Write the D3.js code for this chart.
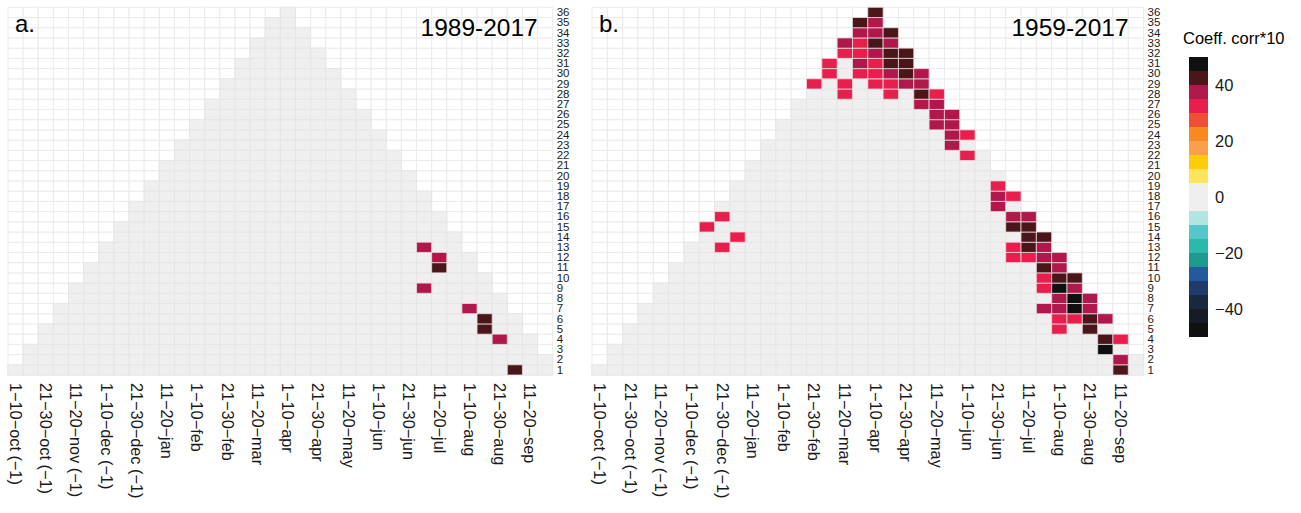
<!DOCTYPE html>
<html><head><meta charset="utf-8">
<script src="https://cdn.jsdelivr.net/npm/d3@7"></script>
<style>
body{margin:0;background:#fff}
text{font-family:"Liberation Sans",Arial,Helvetica,sans-serif}
</style>
</head><body>
<svg id="chart" width="1301" height="513"></svg>
<script>
// ---------- data ----------
const dekadLabels = [
  "1−10−oct (−1)","11−20−oct (−1)","21−30−oct (−1)",
  "1−10−nov (−1)","11−20−nov (−1)","21−30−nov (−1)",
  "1−10−dec (−1)","11−20−dec (−1)","21−30−dec (−1)",
  "1−10−jan","11−20−jan","21−30−jan",
  "1−10−feb","11−20−feb","21−30−feb",
  "1−10−mar","11−20−mar","21−30−mar",
  "1−10−apr","11−20−apr","21−30−apr",
  "1−10−may","11−20−may","21−30−may",
  "1−10−jun","11−20−jun","21−30−jun",
  "1−10−jul","11−20−jul","21−30−jul",
  "1−10−aug","11−20−aug","21−30−aug",
  "1−10−sep","11−20−sep","21−30−sep"
];
const tickDekads = [1,3,5,7,9,11,13,15,17,19,21,23,25,27,29,31,33,35];
const windowLengths = d3.range(1, 37);   // 1..36 dekads
const panelKeys = ["a.", "b."];
const panelTitles = ["1989-2017", "1959-2017"];

// significant cells: [start dekad, window length, coeff. corr*10]
const cellsA = [
  [22,13,37],[23,12,37],[24,11,42],[24,9,37],[28,7,37],
  [29,6,42],[30,5,42],[31,4,37],[34,1,42]
];
const cellsB = [
  [1,36,42],
  [1,35,42],[2,35,37],
  [1,34,37],[2,34,37],[3,34,42],
  [1,33,37],[2,33,32],[3,33,42],[4,33,37],
  [1,32,32],[2,32,32],[3,32,37],[4,32,42],[5,32,42],
  [1,31,32],[3,31,37],[4,31,32],[5,31,42],[6,31,42],
  [1,30,32],[3,30,32],[4,30,32],[5,30,37],[6,30,42],[7,30,37],
  [1,29,32],[3,29,32],[5,29,32],[6,29,32],[7,29,37],[8,29,37],
  [3,28,32],[6,28,32],[8,28,42],[9,28,32],
  [9,27,37],[10,27,37],
  [10,26,37],[11,26,37],
  [11,25,37],[12,25,37],
  [12,24,37],[13,24,32],
  [13,23,37],
  [14,22,32],
  [18,19,32],
  [18,18,37],[19,18,32],
  [19,17,37],
  [1,16,32],[20,16,37],[21,16,37],
  [1,15,32],[21,15,42],[22,15,42],
  [3,14,32],[22,14,42],[23,14,42],
  [3,13,32],[22,13,32],[23,13,42],[24,13,37],
  [22,12,32],[23,12,32],[24,12,37],[25,12,37],
  [25,11,42],[26,11,37],
  [25,10,32],[26,10,42],[27,10,42],
  [26,9,32],[27,9,47],[28,9,37],
  [27,8,37],[28,8,47],[29,8,37],
  [27,7,37],[28,7,37],[29,7,47],[30,7,37],
  [28,6,32],[29,6,32],[30,6,42],[31,6,37],
  [29,5,32],[31,5,42],
  [32,4,42],[33,4,32],
  [33,3,47],
  [34,2,37],
  [35,1,42]
];

// colour classes
const classBreaks = [-45,-40,-35,-30,-25,-20,-15,-10,-5,5,10,15,20,25,30,35,40,45];
const classColors = [
  "#101010","#161c24","#19283f","#1f3b6b","#235a9e","#1f9990","#2bb9ad","#55c6ca","#b2e5e2",
  "#efefef",
  "#ffe45c","#ffcc0a","#f8a04a","#f68a1f","#f04f37","#e81f4c","#b0174b","#4a1619","#101010"
];
const legendEdges = [-50,-45,-40,-35,-30,-25,-20,-15,-10,-5,5,10,15,20,25,30,35,40,45,50];
const legendTicks = [40,20,0,-20,-40];
const legendTitle = "Coeff. corr*10";

// ---------- drawing ----------
const svg = d3.select("#chart");
const color = d3.scaleThreshold().domain(classBreaks).range(classColors);
const fmt = v => (v < 0 ? "−" + Math.abs(v) : String(v));

const plotTop = 7.3, plotBottom = 375;
const panelRanges = [[8, 552.7], [592, 1143.6]];
const allCells = [cellsA, cellsB];

panelKeys.forEach((key, p) => {
  const [x0, x1] = panelRanges[p];
  const x = d3.scaleBand().domain(d3.range(1, 37)).range([x0, x1]);
  const y = d3.scaleBand().domain(windowLengths).range([plotBottom, plotTop]);
  const g = svg.append("g");

  // background grid
  const grid = [];
  x.domain().forEach(c => windowLengths.forEach(l => grid.push([c, l])));
  g.append("g").selectAll("rect").data(grid).join("rect")
    .attr("x", d => x(d[0])).attr("y", d => y(d[1]))
    .attr("width", x.bandwidth()).attr("height", y.bandwidth())
    .attr("fill", "#ffffff").attr("stroke", "#ebebeb").attr("stroke-width", 1);

  // triangle of windows
  const lookup = new Map(allCells[p].map(d => [d[0] + "_" + d[1], d[2]]));
  const tiles = [];
  windowLengths.forEach(l => {
    for (let s = 1; s <= 37 - l; s++) {
      const v = lookup.has(s + "_" + l) ? lookup.get(s + "_" + l) : 0;
      tiles.push({s, l, v, col: s + Math.floor(l / 2)});
    }
  });
  tiles.sort((a, b) => (a.v !== 0) - (b.v !== 0));
  g.append("g").selectAll("rect").data(tiles).join("rect")
    .attr("x", d => x(d.col)).attr("y", d => y(d.l))
    .attr("width", x.bandwidth()).attr("height", y.bandwidth())
    .attr("fill", d => color(d.v))
    .attr("stroke", d => d.v === 0 ? "#e6e6e6" : "rgba(235,225,228,0.75)")
    .attr("stroke-width", 1);

  // x axis
  const xa = g.append("g").attr("transform", `translate(0,${plotBottom})`)
    .call(d3.axisBottom(x).tickValues(tickDekads).tickFormat(d => dekadLabels[d - 1]).tickSize(0));
  xa.select(".domain").remove();
  xa.selectAll("text")
    .attr("transform", "rotate(90)")
    .attr("x", 8).attr("y", 0).attr("dy", "0.35em")
    .attr("text-anchor", "start")
    .attr("fill", "#1a1a1a")
    .style("font-size", "16.3px");

  // y axis (right)
  const ya = g.append("g").attr("transform", `translate(${x1},0)`)
    .call(d3.axisRight(y).tickSize(0).tickPadding(4));
  ya.select(".domain").remove();
  ya.selectAll("text").attr("fill", "#1a1a1a").style("font-size", "11.5px");

  // panel tag and title
  g.append("text").attr("x", x0 + 7).attr("y", 32).text(key)
    .style("font-size", "24px").attr("fill", "#000");
  g.append("text").attr("x", x1 - 15).attr("y", 36).attr("text-anchor", "end")
    .text(panelTitles[p]).style("font-size", "24.5px").attr("fill", "#000");
});

// legend
const ly = d3.scaleLinear().domain([50, -50]).range([57, 337]);
const lg = svg.append("g");
const bins = d3.pairs(legendEdges);
lg.selectAll("rect").data(bins).join("rect")
  .attr("x", 1189).attr("width", 19)
  .attr("y", d => ly(d[1])).attr("height", d => ly(d[0]) - ly(d[1]))
  .attr("fill", d => color((d[0] + d[1]) / 2));
lg.selectAll("text.tk").data(legendTicks).join("text").attr("class", "tk")
  .attr("x", 1215).attr("y", d => ly(d)).attr("dy", "0.35em")
  .text(fmt).style("font-size", "16.5px").attr("fill", "#1a1a1a");
lg.append("text").attr("x", 1183).attr("y", 44).text(legendTitle)
  .style("font-size", "16.5px").attr("fill", "#000");
</script>
</body></html>
